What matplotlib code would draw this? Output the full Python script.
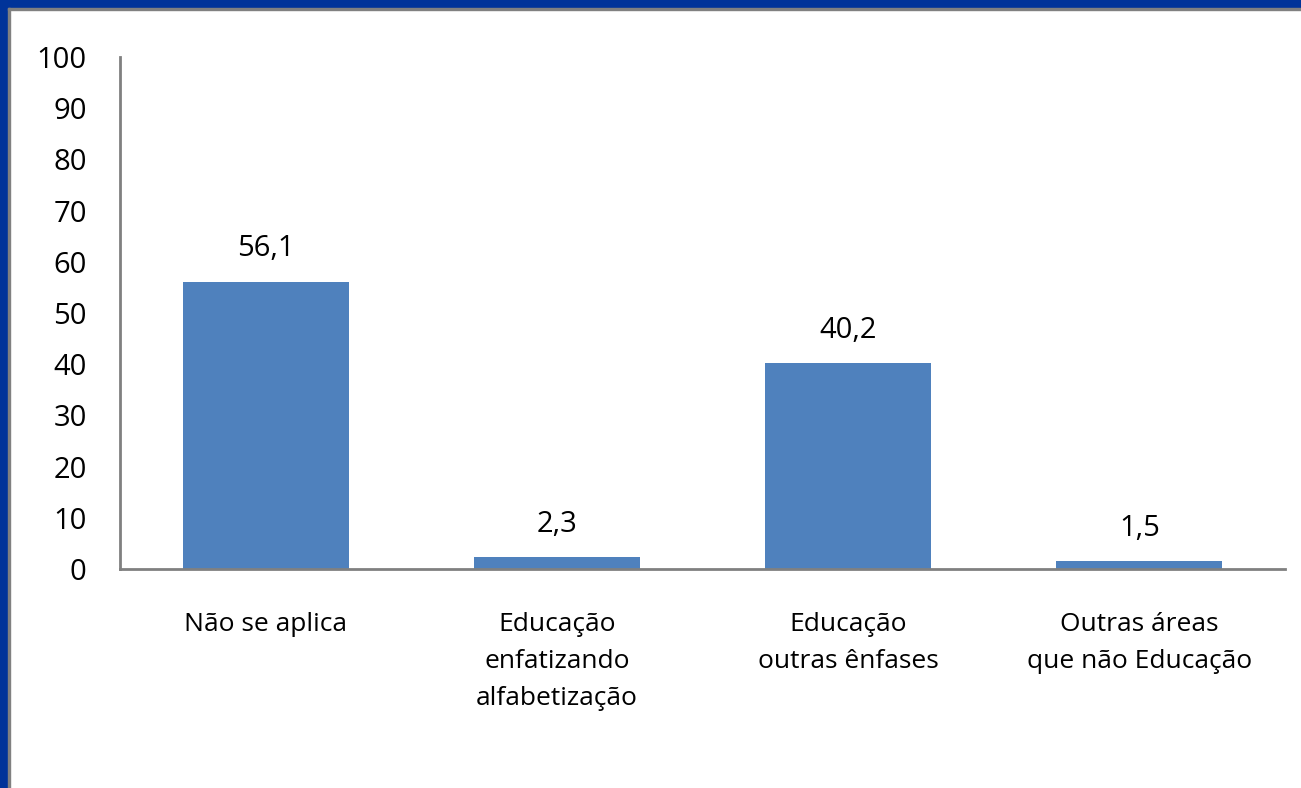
import matplotlib.pyplot as plt
from matplotlib.patches import Rectangle

CATEGORIES = [
    "Não se aplica",
    "Educação\nenfatizando\nalfabetização",
    "Educação\noutras ênfases",
    "Outras áreas\nque não Educação",
]
VALUES = [56.1, 2.3, 40.2, 1.5]
VALUE_LABELS = ["56,1", "2,3", "40,2", "1,5"]
Y_TICKS = [0, 10, 20, 30, 40, 50, 60, 70, 80, 90, 100]

BAR_COLOR = "#4F81BD"
FRAME_BLUE = "#003399"
FRAME_GRAY = "#808080"


def main() -> None:
    plt.rcParams["font.family"] = ["Open Sans", "DejaVu Sans"]
    W, H = 1301, 788
    fig = plt.figure(figsize=(W / 100, H / 100), dpi=100)

    # slide frame: blue band on top and left, thin gray line inside
    fig.patches.append(Rectangle((0, 1 - 8 / H), 1, 8 / H, transform=fig.transFigure,
                                 color=FRAME_BLUE, zorder=0))
    fig.patches.append(Rectangle((0, 0), 8 / W, 1, transform=fig.transFigure,
                                 color=FRAME_BLUE, zorder=0))
    fig.patches.append(Rectangle((8 / W, 1 - 10 / H), 1, 2 / H, transform=fig.transFigure,
                                 color=FRAME_GRAY, zorder=0))
    fig.patches.append(Rectangle((8 / W, 0), 2 / W, 1 - 8 / H, transform=fig.transFigure,
                                 color=FRAME_GRAY, zorder=0))

    ax = fig.add_axes([120 / W, 1 - 569 / H, (1285 - 120) / W, (569 - 57) / H])
    x = range(len(CATEGORIES))
    bars = ax.bar(x, VALUES, width=0.57, color=BAR_COLOR, zorder=2)
    ax.set_xlim(-0.5, len(CATEGORIES) - 0.5)
    ax.set_ylim(0, 100)
    ax.set_yticks(Y_TICKS)
    ax.set_yticklabels([str(t) for t in Y_TICKS], fontsize=21)
    ax.tick_params(axis="y", length=0, pad=24)
    ax.set_xticks(list(x))
    ax.set_xticklabels(CATEGORIES, fontsize=19, linespacing=1.62, va="top")
    ax.tick_params(axis="x", length=0, pad=31)

    for side in ["top", "right"]:
        ax.spines[side].set_visible(False)
    for side in ["left", "bottom"]:
        ax.spines[side].set_color(FRAME_GRAY)
        ax.spines[side].set_linewidth(2)

    for bar, label in zip(bars, VALUE_LABELS):
        ax.text(
            bar.get_x() + bar.get_width() / 2,
            bar.get_height() + 3.6,
            label,
            ha="center",
            va="bottom",
            fontsize=21,
        )

    fig.savefig("out.png", dpi=100)
    plt.close(fig)


if __name__ == "__main__":
    main()
